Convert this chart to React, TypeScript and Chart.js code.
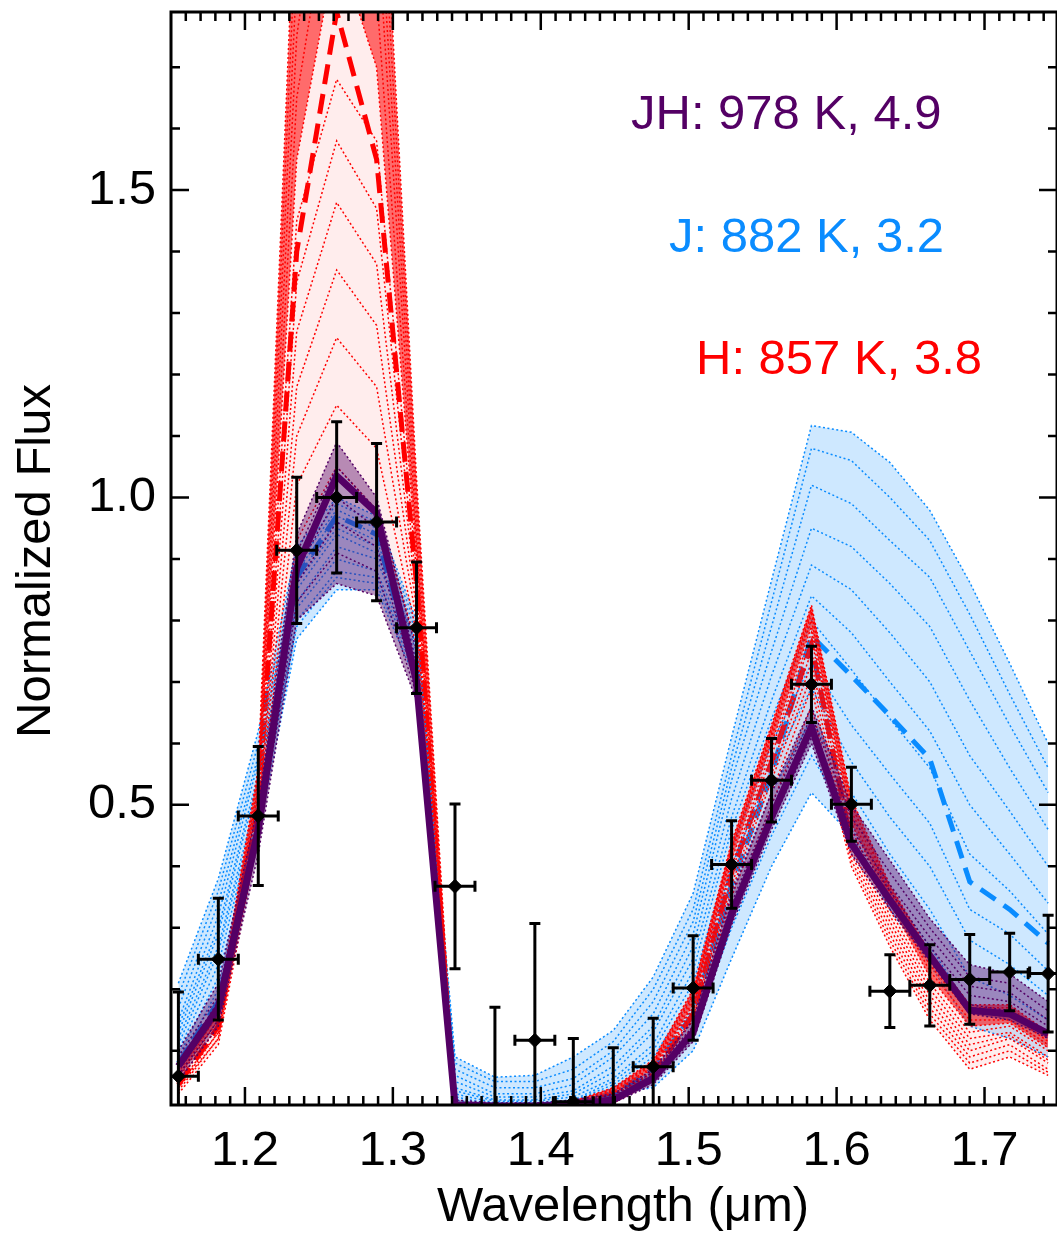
import React, { useEffect, useRef } from "react";
import { Chart, registerables } from "chart.js";

Chart.register(...registerables);

// ---------- data ----------
const WAVE = [1.155, 1.182, 1.209, 1.235, 1.262, 1.289, 1.316, 1.342, 1.369, 1.396, 1.422, 1.449, 1.476, 1.503, 1.529, 1.556, 1.583, 1.610, 1.636, 1.663, 1.690, 1.717, 1.743];
const DATA_FLUX = [0.0585, 0.249, 0.482, 0.914, 1.0, 0.96, 0.788, 0.3675, 0.0, 0.117, 0.017, 0.0, 0.074, 0.202, 0.403, 0.540, 0.696, 0.501, 0.197, 0.2065, 0.216, 0.228, 0.2255];
const DATA_ERR = [0.137, 0.099, 0.113, 0.119, 0.123, 0.128, 0.107, 0.134, 0.171, 0.19, 0.103, 0.105, 0.079, 0.085, 0.071, 0.068, 0.062, 0.06, 0.059, 0.066, 0.073, 0.063, 0.095];
const WAVE_ERR = 0.0135;

// best fits
const JH_BEST = [0.075, 0.17, 0.46, 0.885, 1.035, 0.975, 0.70, 0.012, 0.01, 0.01, 0.012, 0.02, 0.055, 0.13, 0.323, 0.48, 0.627, 0.437, 0.345, 0.255, 0.166, 0.160, 0.128];
const H_BEST = [0.045, 0.14, 0.50, 1.40, 1.79, 1.55, 0.86, 0.008, 0.005, 0.005, 0.008, 0.02, 0.06, 0.16, 0.39, 0.57, 0.76, 0.437, 0.345, 0.255, 0.166, 0.160, 0.128];
const J_BEST = [0.08, 0.18, 0.47, 0.87, 0.97, 0.94, 0.71, 0.012, 0.012, 0.012, 0.015, 0.03, 0.07, 0.16, 0.37, 0.55, 0.775, 0.71, 0.645, 0.575, 0.375, 0.33, 0.275];

// JH model family (purple)
const JH_MODEL_1 = [0.05, 0.14, 0.42, 0.80, 0.86, 0.84, 0.67, 0.005, 0.005, 0.005, 0.008, 0.015, 0.045, 0.115, 0.305, 0.46, 0.60, 0.42, 0.33, 0.245, 0.16, 0.15, 0.12];
const JH_MODEL_2 = [0.06, 0.15, 0.44, 0.83, 0.91, 0.88, 0.68, 0.008, 0.007, 0.007, 0.01, 0.018, 0.05, 0.12, 0.31, 0.47, 0.61, 0.43, 0.34, 0.255, 0.175, 0.165, 0.13];
const JH_MODEL_3 = [0.07, 0.16, 0.45, 0.86, 0.96, 0.92, 0.69, 0.01, 0.01, 0.01, 0.012, 0.02, 0.055, 0.13, 0.32, 0.48, 0.62, 0.45, 0.36, 0.27, 0.19, 0.18, 0.14];
const JH_MODEL_4 = [0.08, 0.18, 0.47, 0.88, 1.00, 0.95, 0.71, 0.012, 0.01, 0.01, 0.014, 0.025, 0.06, 0.135, 0.33, 0.49, 0.635, 0.46, 0.37, 0.285, 0.205, 0.195, 0.15];
const JH_MODEL_5 = [0.09, 0.19, 0.48, 0.91, 1.05, 0.98, 0.73, 0.015, 0.012, 0.012, 0.016, 0.028, 0.065, 0.14, 0.34, 0.50, 0.645, 0.48, 0.39, 0.30, 0.22, 0.21, 0.165];
const JH_MODEL_6 = [0.10, 0.21, 0.50, 0.94, 1.09, 1.00, 0.75, 0.02, 0.015, 0.015, 0.02, 0.03, 0.07, 0.15, 0.355, 0.52, 0.66, 0.50, 0.41, 0.315, 0.24, 0.225, 0.18];

// H model family (red)
const H_MODEL_1 = [0.03, 0.11, 0.45, 0.93, 1.05, 0.98, 0.76, 0.005, 0.003, 0.003, 0.006, 0.015, 0.05, 0.13, 0.33, 0.50, 0.66, 0.40, 0.27, 0.15, 0.07, 0.09, 0.06];
const H_MODEL_2 = [0.035, 0.12, 0.46, 1.02, 1.15, 1.08, 0.78, 0.005, 0.004, 0.004, 0.007, 0.018, 0.055, 0.14, 0.35, 0.52, 0.69, 0.41, 0.28, 0.16, 0.08, 0.10, 0.065];
const H_MODEL_3 = [0.04, 0.12, 0.47, 1.10, 1.26, 1.18, 0.80, 0.006, 0.004, 0.004, 0.008, 0.02, 0.06, 0.15, 0.36, 0.54, 0.71, 0.42, 0.29, 0.17, 0.09, 0.11, 0.07];
const H_MODEL_4 = [0.04, 0.13, 0.48, 1.18, 1.37, 1.28, 0.82, 0.007, 0.005, 0.005, 0.009, 0.022, 0.062, 0.155, 0.37, 0.55, 0.73, 0.43, 0.30, 0.18, 0.10, 0.12, 0.08];
const H_MODEL_5 = [0.045, 0.13, 0.48, 1.27, 1.48, 1.38, 0.84, 0.008, 0.005, 0.005, 0.01, 0.024, 0.065, 0.16, 0.38, 0.56, 0.75, 0.44, 0.31, 0.19, 0.11, 0.125, 0.085];
const H_MODEL_6 = [0.05, 0.14, 0.49, 1.35, 1.58, 1.47, 0.86, 0.008, 0.006, 0.006, 0.011, 0.026, 0.068, 0.165, 0.39, 0.58, 0.77, 0.45, 0.32, 0.20, 0.12, 0.13, 0.09];
const H_MODEL_7 = [0.05, 0.14, 0.50, 1.45, 1.68, 1.58, 0.88, 0.009, 0.006, 0.006, 0.012, 0.028, 0.07, 0.17, 0.40, 0.59, 0.78, 0.46, 0.33, 0.21, 0.13, 0.14, 0.10];
const H_MODEL_8 = [0.055, 0.15, 0.51, 1.55, 1.90, 1.70, 0.90, 0.01, 0.007, 0.007, 0.013, 0.03, 0.072, 0.175, 0.41, 0.60, 0.79, 0.47, 0.34, 0.22, 0.14, 0.145, 0.105];
const H_MODEL_9 = [0.06, 0.15, 0.52, 1.65, 2.05, 1.82, 0.92, 0.01, 0.007, 0.007, 0.014, 0.032, 0.075, 0.18, 0.42, 0.61, 0.80, 0.48, 0.35, 0.23, 0.15, 0.15, 0.11];
const H_MODEL_10 = [0.06, 0.16, 0.53, 1.75, 2.20, 1.95, 0.94, 0.011, 0.008, 0.008, 0.015, 0.034, 0.078, 0.185, 0.425, 0.615, 0.81, 0.49, 0.355, 0.24, 0.16, 0.16, 0.115];
const H_MODEL_11 = [0.065, 0.16, 0.54, 1.85, 2.35, 2.05, 0.97, 0.012, 0.008, 0.008, 0.016, 0.036, 0.08, 0.19, 0.43, 0.62, 0.815, 0.50, 0.36, 0.25, 0.165, 0.165, 0.12];
const H_MODEL_12 = [0.07, 0.17, 0.55, 1.95, 2.50, 2.15, 1.00, 0.012, 0.009, 0.009, 0.017, 0.038, 0.082, 0.195, 0.435, 0.625, 0.82, 0.50, 0.365, 0.255, 0.17, 0.17, 0.125];
const H_MODEL_13 = [0.07, 0.17, 0.56, 2.05, 2.65, 2.25, 1.03, 0.013, 0.01, 0.01, 0.018, 0.04, 0.085, 0.20, 0.44, 0.63, 0.825, 0.51, 0.37, 0.26, 0.175, 0.175, 0.13];

// J model family (blue)
const J_MODEL_1 = [0.07, 0.18, 0.45, 0.77, 0.85, 0.85, 0.70, 0.01, 0.005, 0.005, 0.01, 0.03, 0.04, 0.10, 0.25, 0.40, 0.52, 0.45, 0.33, 0.24, 0.14, 0.12, 0.09];
const J_MODEL_2 = [0.08, 0.20, 0.47, 0.79, 0.87, 0.86, 0.71, 0.015, 0.008, 0.008, 0.012, 0.035, 0.06, 0.13, 0.30, 0.45, 0.58, 0.47, 0.36, 0.27, 0.17, 0.15, 0.11];
const J_MODEL_3 = [0.09, 0.22, 0.48, 0.80, 0.88, 0.87, 0.72, 0.02, 0.01, 0.01, 0.015, 0.04, 0.08, 0.17, 0.36, 0.52, 0.64, 0.52, 0.42, 0.33, 0.22, 0.19, 0.15];
const J_MODEL_4 = [0.10, 0.24, 0.50, 0.82, 0.90, 0.88, 0.73, 0.025, 0.012, 0.012, 0.018, 0.045, 0.09, 0.19, 0.40, 0.56, 0.69, 0.57, 0.48, 0.40, 0.28, 0.24, 0.19];
const J_MODEL_5 = [0.11, 0.26, 0.51, 0.83, 0.92, 0.90, 0.74, 0.03, 0.015, 0.015, 0.02, 0.05, 0.10, 0.21, 0.43, 0.60, 0.73, 0.63, 0.55, 0.47, 0.33, 0.29, 0.23];
const J_MODEL_6 = [0.12, 0.27, 0.52, 0.85, 0.94, 0.91, 0.75, 0.035, 0.018, 0.018, 0.025, 0.055, 0.11, 0.23, 0.46, 0.64, 0.80, 0.72, 0.64, 0.56, 0.42, 0.36, 0.29];
const J_MODEL_7 = [0.13, 0.29, 0.54, 0.86, 0.95, 0.92, 0.76, 0.04, 0.02, 0.02, 0.03, 0.065, 0.13, 0.25, 0.48, 0.67, 0.84, 0.78, 0.70, 0.62, 0.50, 0.42, 0.34];
const J_MODEL_8 = [0.14, 0.30, 0.55, 0.87, 0.96, 0.93, 0.76, 0.05, 0.025, 0.025, 0.035, 0.075, 0.14, 0.27, 0.51, 0.71, 0.89, 0.85, 0.78, 0.70, 0.58, 0.49, 0.40];
const J_MODEL_9 = [0.15, 0.32, 0.57, 0.88, 0.97, 0.94, 0.77, 0.06, 0.03, 0.03, 0.045, 0.09, 0.16, 0.29, 0.54, 0.75, 0.95, 0.92, 0.86, 0.79, 0.67, 0.56, 0.46];
const J_MODEL_10 = [0.17, 0.34, 0.58, 0.89, 0.98, 0.95, 0.78, 0.07, 0.04, 0.04, 0.055, 0.10, 0.18, 0.31, 0.56, 0.79, 1.02, 0.99, 0.93, 0.87, 0.75, 0.63, 0.52];
const J_MODEL_11 = [0.19, 0.36, 0.60, 0.90, 0.99, 0.96, 0.79, 0.08, 0.05, 0.05, 0.07, 0.115, 0.20, 0.33, 0.58, 0.83, 1.08, 1.06, 1.00, 0.93, 0.81, 0.68, 0.56];
const J_MODEL_12 = [0.21, 0.38, 0.62, 0.92, 1.00, 0.97, 0.80, 0.09, 0.057, 0.06, 0.09, 0.133, 0.22, 0.356, 0.61, 0.865, 1.117, 1.106, 1.057, 0.979, 0.862, 0.73, 0.60];

const JH_MODELS = [JH_MODEL_1, JH_MODEL_2, JH_MODEL_3, JH_MODEL_4, JH_MODEL_5, JH_MODEL_6];
const H_MODELS = [H_MODEL_1, H_MODEL_2, H_MODEL_3, H_MODEL_4, H_MODEL_5, H_MODEL_6, H_MODEL_7, H_MODEL_8, H_MODEL_9, H_MODEL_10, H_MODEL_11, H_MODEL_12, H_MODEL_13];
const J_MODELS = [J_MODEL_1, J_MODEL_2, J_MODEL_3, J_MODEL_4, J_MODEL_5, J_MODEL_6, J_MODEL_7, J_MODEL_8, J_MODEL_9, J_MODEL_10, J_MODEL_11, J_MODEL_12];

const X_TICKS = [1.2, 1.3, 1.4, 1.5, 1.6, 1.7];
const Y_TICKS = [0.5, 1.0, 1.5];
const ANNOTATIONS = [
  { text: "JH: 978 K, 4.9", color: "#540065", x: 631, y: 129 },
  { text: "J: 882 K, 3.2", color: "#0A8CFF", x: 669, y: 252 },
  { text: "H: 857 K, 3.8", color: "#FF0000", x: 696, y: 374 },
];

// ---------- styling ----------
const PURPLE = "#540065";
const BLUE = "#0A8CFF";
const RED = "#FF0000";
const FONT = '"Liberation Sans", Arial, Helvetica, sans-serif';
const FS = 49;

const pts = (vals: number[]) => WAVE.map((w, i) => ({ x: w, y: vals[i] }));

const dotted = (vals: number[], color: string, order: number, fill: any = false, fillColor = "transparent") => ({
  type: "scatter" as const,
  data: pts(vals),
  showLine: true,
  borderColor: color,
  backgroundColor: fillColor,
  borderWidth: 1.5,
  borderDash: [2, 2.5],
  pointRadius: 0,
  fill,
  order,
});

const framePlugin = {
  id: "frame",
  afterDraw(chart: any) {
    const { ctx, chartArea: a, scales } = chart;
    const x = scales.x;
    const y = scales.y;
    ctx.save();
    ctx.strokeStyle = "#000";
    ctx.lineWidth = 2.5;
    ctx.beginPath();
    for (let k = 115; k <= 175; k++) {
      const px = x.getPixelForValue(k / 100);
      if (px <= a.left + 1 || px >= a.right - 1) continue;
      const len = k % 10 === 0 ? 18 : 9;
      ctx.moveTo(px, a.bottom);
      ctx.lineTo(px, a.bottom - len);
      ctx.moveTo(px, a.top);
      ctx.lineTo(px, a.top + len);
    }
    for (let k = 1; k <= 17; k++) {
      const py = y.getPixelForValue(k / 10);
      if (py >= a.bottom - 1 || py <= a.top + 1) continue;
      const len = k % 5 === 0 ? 18 : 9;
      ctx.moveTo(a.left, py);
      ctx.lineTo(a.left + len, py);
      ctx.moveTo(a.right, py);
      ctx.lineTo(a.right - len, py);
    }
    ctx.stroke();
    ctx.lineWidth = 3;
    ctx.strokeRect(a.left, a.top, a.right - a.left, a.bottom - a.top);

    // titles
    ctx.fillStyle = "#000";
    ctx.font = `${FS}px ${FONT}`;
    ctx.textAlign = "center";
    ctx.textBaseline = "alphabetic";
    ctx.fillText("Wavelength (\u03BCm)", 623, 1221);
    ctx.save();
    ctx.translate(50, 561);
    ctx.rotate(-Math.PI / 2);
    ctx.fillText("Normalized Flux", 0, 0);
    ctx.restore();

    // annotations
    ctx.textAlign = "left";
    for (const an of ANNOTATIONS) {
      ctx.fillStyle = an.color;
      ctx.fillText(an.text, an.x, an.y);
    }
    ctx.restore();
  },
};

const errorBarPlugin = {
  id: "errbars",
  afterDatasetsDraw(chart: any) {
    const { ctx, chartArea: a, scales } = chart;
    const x = scales.x;
    const y = scales.y;
    ctx.save();
    ctx.beginPath();
    ctx.rect(a.left, a.top, a.right - a.left, a.bottom - a.top);
    ctx.clip();
    ctx.strokeStyle = "#000";
    ctx.lineWidth = 3;
    ctx.beginPath();
    const cap = 5.5;
    WAVE.forEach((w, i) => {
      const f = DATA_FLUX[i];
      const e = DATA_ERR[i];
      const px = x.getPixelForValue(w);
      const py = y.getPixelForValue(f);
      const yTop = y.getPixelForValue(f + e);
      const yBot = y.getPixelForValue(f - e);
      const xL = x.getPixelForValue(w - WAVE_ERR);
      const xR = x.getPixelForValue(w + WAVE_ERR);
      ctx.moveTo(px, yTop);
      ctx.lineTo(px, yBot);
      ctx.moveTo(px - cap, yTop);
      ctx.lineTo(px + cap, yTop);
      ctx.moveTo(px - cap, yBot);
      ctx.lineTo(px + cap, yBot);
      ctx.moveTo(xL, py);
      ctx.lineTo(xR, py);
      ctx.moveTo(xL, py - cap);
      ctx.lineTo(xL, py + cap);
      ctx.moveTo(xR, py - cap);
      ctx.lineTo(xR, py + cap);
    });
    ctx.stroke();
    ctx.restore();
  },
};

export default function App() {
  const ref = useRef<HTMLCanvasElement>(null);

  useEffect(() => {
    if (!ref.current) return;
    const datasets: any[] = [];
    datasets.push({
      type: "scatter",
      data: pts(DATA_FLUX),
      showLine: false,
      pointStyle: "rectRot",
      pointRadius: 7,
      pointBackgroundColor: "#000",
      pointBorderColor: "#000",
      pointBorderWidth: 1,
      clip: 0,
      order: 0,
    });
    datasets.push({
      type: "scatter",
      data: pts(JH_BEST),
      showLine: true,
      borderColor: PURPLE,
      borderWidth: 7,
      pointRadius: 0,
      fill: false,
      order: 1,
    });
    datasets.push({
      type: "scatter",
      data: pts(H_BEST),
      showLine: true,
      borderColor: RED,
      borderWidth: 5,
      borderDash: [20, 10],
      pointRadius: 0,
      fill: false,
      order: 5,
    });
    datasets.push({
      type: "scatter",
      data: pts(J_BEST),
      showLine: true,
      borderColor: BLUE,
      borderWidth: 5,
      borderDash: [18, 10],
      pointRadius: 0,
      fill: false,
      order: 6,
    });

    // purple family with a dense core fill
    const jhStart = datasets.length;
    const jhLast = jhStart + JH_MODELS.length - 1;
    JH_MODELS.forEach((m, k) =>
      datasets.push(k === 0 ? dotted(m, PURPLE, 2, jhLast, "rgba(84,0,101,0.42)") : dotted(m, PURPLE, 2))
    );

    // red family: light overall fill and denser outer fill
    const hStart = datasets.length;
    const hLast = hStart + H_MODELS.length - 1;
    H_MODELS.forEach((m, k) => {
      if (k === 0) datasets.push(dotted(m, RED, 3, hLast, "rgba(255,0,0,0.07)"));
      else if (k === 7) datasets.push(dotted(m, RED, 3, hLast, "rgba(255,0,0,0.55)"));
      else datasets.push(dotted(m, RED, 3));
    });

    // blue family: light overall fill
    const jStart = datasets.length;
    const jLast = jStart + J_MODELS.length - 1;
    J_MODELS.forEach((m, k) => {
      if (k === 0) datasets.push(dotted(m, BLUE, 4, jLast, "rgba(10,140,255,0.2)"));
      else datasets.push(dotted(m, BLUE, 4));
    });

    const chart = new Chart(ref.current, {
      type: "scatter",
      data: { datasets },
      options: {
        animation: false,
        responsive: false,
        devicePixelRatio: 1,
        events: [],
        layout: { padding: { top: 12, right: 3, left: 0, bottom: 0 } },
        plugins: {
          legend: { display: false },
          tooltip: { enabled: false },
          title: { display: false },
          filler: { propagate: false },
        },
        scales: {
          x: {
            type: "linear",
            min: 1.15,
            max: 1.749,
            grid: { display: false, drawTicks: false },
            border: { display: false },
            afterBuildTicks: (s: any) => {
              s.ticks = X_TICKS.map((v) => ({ value: v }));
            },
            afterFit: (s: any) => {
              s.height = 129;
              s.paddingLeft = 0;
              s.paddingRight = 0;
            },
            ticks: {
              color: "#000",
              padding: 17,
              font: { family: FONT, size: FS },
              maxRotation: 0,
              autoSkip: false,
              callback: (v: any) => Number(v).toFixed(1),
            },
          },
          y: {
            type: "linear",
            min: 0.0118,
            max: 1.7897,
            grid: { display: false, drawTicks: false },
            border: { display: false },
            afterBuildTicks: (s: any) => {
              s.ticks = Y_TICKS.map((v) => ({ value: v }));
            },
            afterFit: (s: any) => {
              s.width = 171;
              s.paddingTop = 0;
              s.paddingBottom = 0;
            },
            ticks: {
              color: "#000",
              padding: 15,
              font: { family: FONT, size: FS },
              autoSkip: false,
              callback: (v: any) => Number(v).toFixed(1),
            },
          },
        },
      },
      plugins: [errorBarPlugin, framePlugin],
    } as any);
    return () => chart.destroy();
  }, []);

  return (
    <div
      style={{
        position: "absolute",
        left: 0,
        top: 0,
        width: 1057,
        height: 1234,
        overflow: "hidden",
        background: "#fff",
      }}
    >
      <canvas ref={ref} width={1065} height={1234} style={{ width: 1065, height: 1234, display: "block" }} />
    </div>
  );
}
